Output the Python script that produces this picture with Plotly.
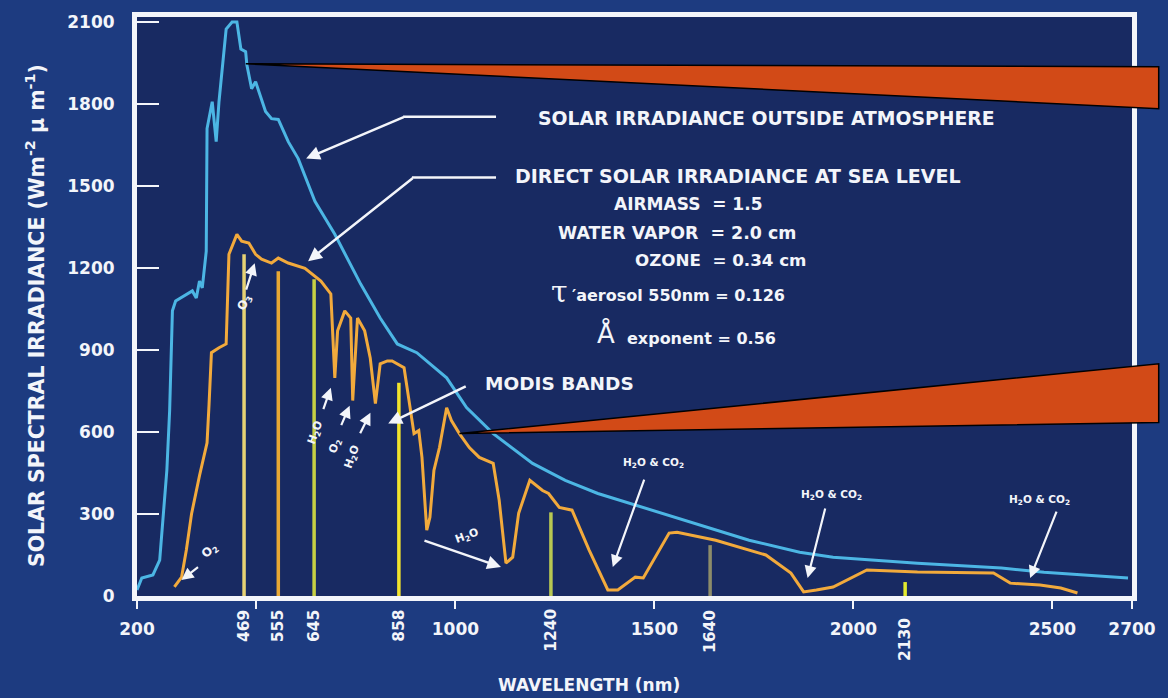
import plotly.graph_objects as go

# ---------------- data ----------------
# Solar irradiance outside atmosphere
blue_nm = [200, 212, 240, 257, 267, 275, 282, 289, 297, 339, 349, 357, 364, 374, 376, 389, 399, 406, 424, 439,
           451, 461, 473, 476, 488, 498, 523, 538, 555, 580, 605, 647, 697, 722, 762, 811, 854, 903, 978, 1028,
           1095, 1194, 1276, 1358, 1452, 1631, 1738, 1865, 1949, 2161, 2372, 2479, 2690]
blue_val = [22, 66, 77, 131, 314, 460, 678, 1043, 1079, 1116, 1090, 1152, 1127, 1261, 1710, 1808, 1662, 1808, 2074, 2100,
            2100, 2001, 1991, 1943, 1856, 1881, 1772, 1746, 1743, 1662, 1600, 1444, 1323, 1253, 1141, 1017, 922, 890, 798, 689,
            594, 485, 423, 375, 332, 252, 204, 160, 142, 120, 102, 87, 66]

# Direct solar irradiance at sea level
orange_nm = [294, 312, 324, 337, 357, 376, 381, 387, 406, 424, 431, 451, 463, 481, 498, 513, 538, 555, 580, 622,
             662, 687, 697, 704, 722, 737, 742, 754, 772, 786, 799, 811, 829, 841, 871, 883, 896, 908, 916, 928,
             936, 946, 960, 978, 990, 1010, 1035, 1060, 1095, 1110, 1119, 1127, 1144, 1159, 1187, 1219, 1234, 1261, 1293, 1336,
             1383, 1408, 1452, 1472, 1537, 1557, 1654, 1780, 1843, 1875, 1907, 1949, 2034, 2161, 2352, 2394, 2469, 2521, 2563]
orange_val = [33, 69, 168, 300, 440, 560, 700, 890, 908, 922, 1250, 1323, 1298, 1291, 1250, 1232, 1218, 1236, 1218, 1199,
              1152, 1105, 798, 970, 1043, 1017, 715, 1017, 970, 871, 704, 849, 860, 860, 835, 725, 594, 605, 507, 241,
              288, 459, 543, 689, 642, 594, 543, 507, 485, 350, 215, 120, 142, 303, 423, 386, 375, 324, 314, 168,
              22, 22, 69, 66, 230, 233, 204, 150, 84, 15, 22, 33, 95, 88, 84, 47, 40, 29, 11]

# MODIS bands
band_nm = [469, 555, 645, 858, 1240, 1640, 2130]
band_top = [1250, 1188, 1159, 780, 306, 186, 51]
band_labels = ["469", "555", "645", "858", "1240", "1640", "2130"]

x_tickvals = [200, 500, 1000, 1500, 2000, 2500, 2700]
x_ticktext = ["200", "", "1000", "1500", "2000", "2500", "2700"]
y_tickvals = [0, 300, 600, 900, 1200, 1500, 1800, 2100]

assert len(blue_nm) == len(blue_val)
assert len(orange_nm) == len(orange_val)

# ---------------- styling ----------------
W, H = 1168, 698
X0, X1 = 137, 1143      # plot area in px
YT, YB = 15, 596
FONT = "DejaVu Sans"
WHITE = "#f3f5fa"
band_colors = ["#e6d274", "#e8a834", "#c6d044", "#f2e42c", "#b8c852", "#8c8c6a", "#e2ea2e"]
band_label_y = [626, 626, 626, 626, 630, 632, 640]


def P(px, py):
    return (px - X0) / (X1 - X0), (YB - py) / (YB - YT)


fig = go.Figure()

for nm, top, col in zip(band_nm, band_top, band_colors):
    fig.add_trace(go.Scatter(x=[nm, nm], y=[0, top], mode="lines",
                             line=dict(color=col, width=3.5), hoverinfo="skip", showlegend=False))

fig.add_trace(go.Scatter(x=blue_nm, y=blue_val, mode="lines",
                         line=dict(color="#4cb6e4", width=3), showlegend=False))
fig.add_trace(go.Scatter(x=orange_nm, y=orange_val, mode="lines",
                         line=dict(color="#f2aa3c", width=3), showlegend=False))

ann = []


def text(px, py, s, size=16, anchor="left", angle=0, bold=True, family=FONT):
    x, y = P(px, py)
    ann.append(dict(x=x, y=y, xref="paper", yref="paper", text=s, showarrow=False,
                    xanchor=anchor, yanchor="middle", textangle=angle,
                    font=dict(family=family, size=size, color=WHITE,
                              weight="bold" if bold else "normal")))


def arrow(tip, tail, width=2.2):
    x, y = P(*tip)
    ann.append(dict(x=x, y=y, xref="paper", yref="paper", text="", showarrow=True,
                    ax=tail[0] - tip[0], ay=tail[1] - tip[1], axref="pixel", ayref="pixel",
                    arrowhead=2, arrowsize=1.1, arrowwidth=width, arrowcolor=WHITE, standoff=0))


# main labels
text(540, 117, "SOLAR IRRADIANCE OUTSIDE ATMOSPHERE", 18.8)
text(517, 175, "DIRECT SOLAR IRRADIANCE AT SEA LEVEL", 19)
text(694, 203, "AIRMASS\u00a0 = 1.5", 17, "center")
text(683, 232, "WATER VAPOR\u00a0 = 2.0 cm", 17.4, "center")
text(727, 259, "OZONE\u00a0 = 0.34 cm", 16.7, "center")
text(564, 290, "τ", 30, "center", bold=False, family="DejaVu Serif")
text(575, 294, "′aerosol 550nm = 0.126", 16, "left")
text(611, 333, "Å", 26, "center", bold=False)
text(630, 338, "exponent = 0.56", 16, "left")
text(487, 383, "MODIS BANDS", 18.5)
text(659, 463, "H<sub>2</sub>O & CO<sub>2</sub>", 10.5, "center")
text(839, 495, "H<sub>2</sub>O & CO<sub>2</sub>", 10.5, "center")
text(1049, 500, "H<sub>2</sub>O & CO<sub>2</sub>", 10.5, "center")

# absorption labels
text(246, 302, "O<sub>3</sub>", 12, "center", angle=-65)
text(317, 432, "H<sub>2</sub>O", 11, "center", angle=-70)
text(337, 445, "O<sub>2</sub>", 11, "center", angle=-70)
text(355, 457, "H<sub>2</sub>O", 11, "center", angle=-70)
text(211, 551, "O<sub>2</sub>", 12, "center", angle=-40)
text(471, 536, "H<sub>2</sub>O", 11, "center", angle=-20)

# arrows
arrow((308, 157), (407, 115), 2.5)
arrow((310, 260), (416, 176), 2.5)
arrow((391, 423), (470, 385), 2.5)
arrow((618, 567), (650, 478))
arrow((815, 578), (833, 507))
arrow((1040, 578), (1067, 510))
arrow((256, 262), (247, 290))
arrow((333, 387), (325, 410))
arrow((352, 405), (343, 426))
arrow((373, 412), (362, 434))
arrow((182, 580), (200, 566))
arrow((505, 567), (427, 540), 2.5)

# band labels below the axis
for nm, lab, ly in zip(band_nm, band_labels, band_label_y):
    ann.append(dict(x=nm, y=P(0, ly)[1], xref="x", yref="paper", text=lab, showarrow=False,
                    textangle=-90, xanchor="center", yanchor="middle",
                    font=dict(family=FONT, size=15.5, color=WHITE, weight="bold")))

# axis titles
text(35, 315, "SOLAR SPECTRAL IRRADIANCE (Wm<sup>-2</sup> μ m<sup>-1</sup>)", 20.5, "center", angle=-90)
text(594, 685, "WAVELENGTH (nm)", 17, "center")

shapes = []


def hline(p1, p2):
    a, b = P(*p1)
    c, d = P(*p2)
    shapes.append(dict(type="line", xref="paper", yref="paper", x0=a, y0=b, x1=c, y1=d,
                       line=dict(color=WHITE, width=2.5)))


hline((406, 115), (500, 115))
hline((415, 176), (500, 176))


def wedge(pts):
    path = "M " + " L ".join(f"{P(*p)[0]:.5f},{P(*p)[1]:.5f}" for p in pts) + " Z"
    shapes.append(dict(type="path", xref="paper", yref="paper", path=path,
                       fillcolor="#d24a17", line=dict(color="#000000", width=1.5), layer="above"))


wedge([(247, 62), (1170, 65), (1170, 107)])
wedge([(463, 433), (1170, 363), (1170, 422)])

fig.update_layout(
    width=W, height=H,
    margin=dict(l=X0, r=W - X1, t=YT, b=H - YB, pad=0),
    paper_bgcolor="#1d3b80",
    plot_bgcolor="#182a62",
    showlegend=False,
    annotations=ann,
    shapes=shapes,
    xaxis=dict(range=[200, 2700], tickvals=x_tickvals, ticktext=x_ticktext,
               showgrid=False, zeroline=False, showline=True, mirror=True,
               linecolor=WHITE, linewidth=5, ticks="outside", ticklen=8, tickwidth=2,
               tickcolor=WHITE, ticklabelstandoff=6,
               tickfont=dict(family=FONT, size=17, color=WHITE, weight="bold")),
    yaxis=dict(range=[0, 2118], tickvals=y_tickvals,
               showgrid=False, zeroline=False, showline=True, mirror=True,
               linecolor=WHITE, linewidth=5, ticks="inside", ticklen=22, tickwidth=2,
               tickcolor=WHITE, ticklabelstandoff=14,
               tickfont=dict(family=FONT, size=17, color=WHITE, weight="bold")),
)

fig.write_html("out.html", config={"displayModeBar": False},
               post_script="document.body.style.margin='0';document.body.style.overflow='hidden';")
